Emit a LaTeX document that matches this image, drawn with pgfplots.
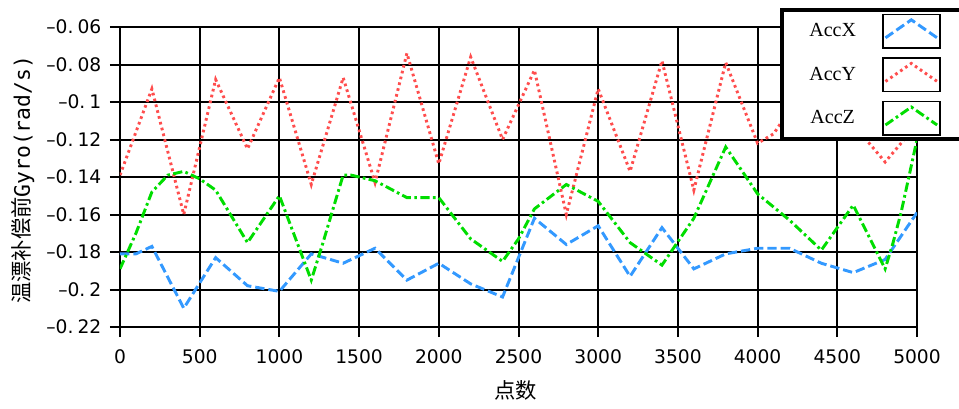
\documentclass[border=0pt]{standalone}
\usepackage{fontspec}
\setmainfont{DejaVu Sans}
\newfontfamily\cjk{Noto Sans CJK SC}
\newfontfamily\monolat{DejaVu Sans Mono}
\newfontfamily\legfont{Liberation Serif}
\usepackage{pgfplots}
\pgfplotsset{compat=1.18}
\definecolor{cx}{RGB}{51,153,255}
\definecolor{cy}{RGB}{255,77,77}
\definecolor{cz}{RGB}{0,221,0}
\begin{document}
\begin{tikzpicture}
\useasboundingbox (-90pt,-60.75pt) rectangle (629.25pt,245.25pt);
\begin{axis}[
  at={(0,0)}, anchor=south west,
  scale only axis, width=597.75pt, height=225pt,
  xmin=0, xmax=5000, ymin=-0.22, ymax=-0.06,
  xtick={0,500,1000,1500,2000,2500,3000,3500,4000,4500,5000},
  ytick={-0.22,-0.2,-0.18,-0.16,-0.14,-0.12,-0.1,-0.08,-0.06},
  yticklabels={{–0.\hspace{3pt}22},{–0.\hspace{3pt}2},{–0.\hspace{3pt}18},{–0.\hspace{3pt}16},{–0.\hspace{3pt}14},{–0.\hspace{3pt}12},{–0.\hspace{3pt}1},{–0.\hspace{3pt}08},{–0.\hspace{3pt}06}},
  grid=major, grid style={black, line width=1.5pt},
  axis line style={black, line width=1.5pt},
  tick style={black, line width=1.5pt},
  tick align=outside, tick pos=left, major tick length=7.5pt,
  ticklabel style={font=\fontsize{14}{16}\selectfont},
  xticklabel style={yshift=-6pt},
  yticklabel style={xshift=-3pt},
  /pgf/number format/assume math mode=true,
  /pgf/number format/1000 sep={},
  xlabel={\cjk 点数},
  ylabel={{\cjk 温漂补偿前}{\monolat Gyro(rad/s)}},
  xlabel style={font=\fontsize{16}{18}\selectfont, at={(axis description cs:0.4968,-0.21)}, anchor=center},
  ylabel style={font=\fontsize{16}{18}\selectfont, at={(axis description cs:-0.1217,0.49)}, anchor=center},
  legend plot pos=right,
  legend style={at={(axis description cs:0.8281,1.0617)}, anchor=north west,
    draw=black, line width=3pt, fill=white,
    inner xsep=12pt, inner ysep=2.4pt, row sep=6.5pt, column sep=11pt,
    cells={anchor=center},
    nodes={text width=52pt, align=center, inner xsep=0pt, font=\legfont\fontsize{15}{17}\selectfont}},
  legend image code/.code={
    \draw[black, solid, line width=1.2pt] (0pt,-12.5pt) rectangle (42.75pt,12.5pt);
    \draw (2pt,-5pt) -- (21.4pt,8.5pt) -- (40.75pt,-5pt);
    \path[draw=none] (0pt,0pt) -- (60pt,0pt);
  },
]
\addplot[color=cx, line width=2.2pt, dash pattern=on 7pt off 3pt, no marks] coordinates {
(0,-0.181) (100,-0.181) (200,-0.177) (400,-0.210) (600,-0.183) (800,-0.198) (1000,-0.201) (1200,-0.181) (1400,-0.186) (1600,-0.178) (1800,-0.195) (2000,-0.186) (2200,-0.197) (2400,-0.204) (2600,-0.162) (2800,-0.176) (3000,-0.166) (3200,-0.193) (3400,-0.167) (3600,-0.189) (3800,-0.181) (4000,-0.178) (4200,-0.178) (4400,-0.186) (4600,-0.191) (4800,-0.184) (5000,-0.159)
};
\addlegendentry{AccX}
\addplot[color=cy, line width=2.2pt, dash pattern=on 2pt off 2.5pt, no marks] coordinates {
(0,-0.139) (200,-0.093) (400,-0.160) (600,-0.088) (800,-0.125) (1000,-0.087) (1200,-0.144) (1400,-0.087) (1600,-0.143) (1800,-0.074) (2000,-0.133) (2200,-0.076) (2400,-0.120) (2600,-0.083) (2800,-0.160) (3000,-0.093) (3200,-0.137) (3400,-0.078) (3600,-0.147) (3800,-0.079) (4000,-0.122) (4100,-0.117) (4300,-0.092) (4500,-0.108) (4650,-0.117) (4800,-0.132) (5000,-0.112)
};
\addlegendentry{AccY}
\addplot[color=cz, line width=2.2pt, dash pattern=on 7pt off 2.5pt on 2pt off 2.5pt, no marks] coordinates {
(0,-0.189) (100,-0.170) (200,-0.148) (300,-0.139) (400,-0.137) (500,-0.141) (600,-0.147) (800,-0.175) (1000,-0.150) (1200,-0.195) (1270,-0.176) (1340,-0.156) (1400,-0.139) (1450,-0.139) (1600,-0.142) (1800,-0.151) (2000,-0.151) (2200,-0.173) (2400,-0.185) (2500,-0.173) (2600,-0.157) (2800,-0.144) (3000,-0.153) (3200,-0.175) (3400,-0.187) (3600,-0.162) (3800,-0.124) (4000,-0.149) (4200,-0.163) (4400,-0.179) (4600,-0.155) (4800,-0.189) (4850,-0.175) (4900,-0.159) (5000,-0.120)
};
\addlegendentry{AccZ}
\end{axis}
\end{tikzpicture}
\end{document}
